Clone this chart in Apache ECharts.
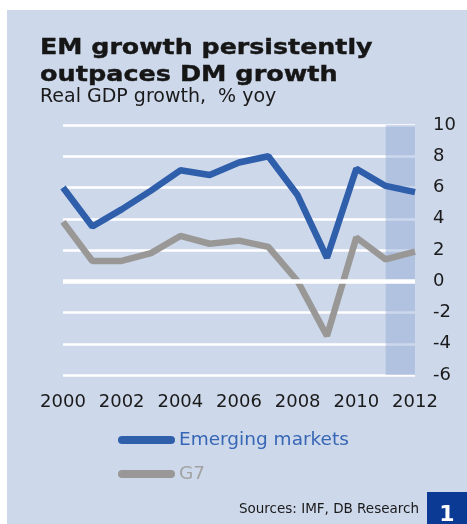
<!DOCTYPE html>
<html>
<head>
<meta charset="utf-8">
<script src="https://cdn.jsdelivr.net/npm/echarts@6/dist/echarts.min.js"></script>
<style>
  html, body { margin: 0; padding: 0; background: #ffffff; }
  #chart { width: 467px; height: 524px; }
</style>
</head>
<body>
<div id="chart"></div>
<script>
// Real GDP growth, % yoy
const years = ['2000','2001','2002','2003','2004','2005','2006','2007','2008','2009','2010','2011','2012'];
const emergingMarkets = [6.0, 3.5, 4.6, 5.8, 7.1, 6.8, 7.6, 8.0, 5.5, 1.5, 7.2, 6.1, 5.7];
const g7 = [3.8, 1.3, 1.3, 1.8, 2.9, 2.4, 2.6, 2.2, 0.0, -3.5, 2.8, 1.4, 1.9];
const forecastSpan = ['2011', '2012'];
const yTicks = { min: -6, max: 10, step: 2 };

const FONT = '"DejaVu Sans", "Liberation Sans", sans-serif';
const BG = '#cdd8ea';
const EM_COLOR = '#2f5eab';
const G7_COLOR = '#9a9896';
const TITLE_COLOR = '#161616';

const chart = echarts.init(document.getElementById('chart'), null, { renderer: 'canvas' });

chart.setOption({
  backgroundColor: '#ffffff',
  animation: false,
  textStyle: { fontFamily: FONT },
  graphic: [
    { type: 'rect', z: -10, silent: true,
      shape: { x: 7, y: 10, width: 460, height: 514 },
      style: { fill: BG } },
    { type: 'text', x: 40, y: 48.7, scaleX: 1.15, z: 10,
      style: { x: 0, y: 0, text: 'EM growth persistently', fill: TITLE_COLOR,
               stroke: TITLE_COLOR, lineWidth: 0.4,
               font: 'bold 22px ' + FONT, verticalAlign: 'middle' } },
    { type: 'text', x: 40, y: 75.7, scaleX: 1.16, z: 10,
      style: { x: 0, y: 0, text: 'outpaces DM growth', fill: TITLE_COLOR,
               stroke: TITLE_COLOR, lineWidth: 0.4,
               font: 'bold 22px ' + FONT, verticalAlign: 'middle' } },
    { type: 'text', x: 40, y: 96.8, z: 10,
      style: { text: 'Real GDP growth,  % yoy', fill: '#1a1a1a',
               font: '19px ' + FONT, verticalAlign: 'middle' } },
    { type: 'text', x: 419, y: 509, z: 10,
      style: { text: 'Sources: IMF, DB Research', fill: '#1a1a1a',
               font: '13.5px ' + FONT, align: 'right', verticalAlign: 'middle' } },
    { type: 'rect', z: 10, silent: true,
      shape: { x: 427, y: 492, width: 40, height: 32 },
      style: { fill: '#0b3a94' } },
    { type: 'text', x: 447, y: 515, z: 11,
      style: { text: '1', fill: '#ffffff', font: 'bold 22px ' + FONT,
               align: 'center', verticalAlign: 'middle' } }
  ],
  grid: { left: 63, right: 52, top: 125, bottom: 149, containLabel: false },
  legend: {
    orient: 'vertical',
    left: 118,
    top: 430,
    padding: 0,
    itemWidth: 57,
    itemHeight: 8,
    itemGap: 14,
    icon: 'path://M4,0 H53 A4,4 0 0 1 53,8 H4 A4,4 0 0 1 4,0 Z',
    textStyle: { fontFamily: FONT, fontSize: 18.5, lineHeight: 20, padding: [0, 0, 0, -1] },
    data: [
      { name: 'Emerging markets', textStyle: { color: '#3766b5' } },
      { name: 'G7', textStyle: { color: '#a3a3a3' } }
    ]
  },
  xAxis: {
    type: 'category',
    data: years,
    boundaryGap: false,
    axisLine: { show: false },
    axisTick: { show: false },
    axisLabel: { interval: 1, color: '#1a1a1a', fontSize: 18, margin: 18, fontFamily: FONT },
    splitLine: { show: false }
  },
  yAxis: {
    type: 'value',
    position: 'right',
    min: yTicks.min,
    max: yTicks.max,
    interval: yTicks.step,
    axisLine: { show: false },
    axisTick: { show: false },
    axisLabel: { color: '#1a1a1a', fontSize: 18, margin: 18, align: 'left', fontFamily: FONT },
    splitLine: { show: true, lineStyle: { color: '#ffffff', width: 2.5 } }
  },
  series: [
    {
      // zero line, drawn over the grid but under the data lines
      name: 'zero', type: 'line', data: [], z: 1, silent: true,
      markLine: {
        silent: true, symbol: 'none', label: { show: false },
        lineStyle: { color: '#ffffff', width: 4.5, type: 'solid' },
        data: [{ yAxis: 0 }]
      }
    },
    {
      name: 'Emerging markets', type: 'line', data: emergingMarkets, z: 3,
      symbol: 'none', color: EM_COLOR,
      itemStyle: { color: EM_COLOR },
      lineStyle: { color: EM_COLOR, width: 6.5 }
    },
    {
      name: 'G7', type: 'line', data: g7, z: 2,
      symbol: 'none', color: G7_COLOR,
      itemStyle: { color: G7_COLOR },
      lineStyle: { color: G7_COLOR, width: 6.5 }
    },
    {
      // translucent band over the forecast years
      name: 'forecast', type: 'line', data: [], z: 5, silent: true,
      markArea: {
        silent: true,
        itemStyle: { color: 'rgba(145,169,212,0.45)' },
        data: [[{ xAxis: forecastSpan[0] }, { xAxis: forecastSpan[1] }]]
      }
    }
  ]
});
</script>
</body>
</html>
